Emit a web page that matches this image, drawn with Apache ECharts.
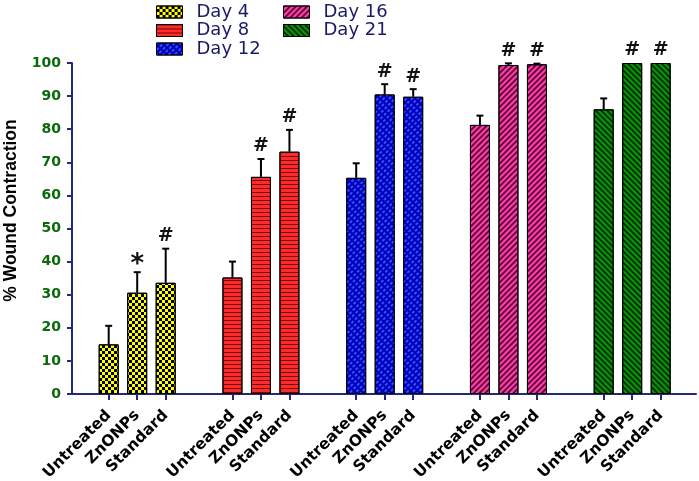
<!DOCTYPE html>
<html><head><meta charset="utf-8">
<script src="https://cdn.jsdelivr.net/npm/echarts@6/dist/echarts.min.js"></script>
<style>html,body{margin:0;padding:0;background:#fff}#c{width:699px;height:481px}</style>
</head><body><div id="c"></div>
<script>
const days = ['Day 4','Day 8','Day 12','Day 16','Day 21'];
const treatments = ['Untreated','ZnONPs','Standard'];
const yTicks = [0,10,20,30,40,50,60,70,80,90,100];
const day4 = [15.0, 30.6, 33.6];
const day8 = [35.2, 65.6, 73.2];
const day12 = [65.3, 90.5, 89.8];
const day16 = [81.3, 99.4, 99.6];
const day21 = [86.0, 100, 100];
const err4 = [5.6, 6.2, 10.3];
const err8 = [4.8, 5.4, 6.6];
const err12 = [4.4, 3.1, 2.3];
const err16 = [2.8, 0.5, 0.2];
const err21 = [3.3, 0, 0];
const marks4 = ['', '*', '#'];
const marks8 = ['', '#', '#'];
const marks12 = ['', '#', '#'];
const marks16 = ['', '#', '#'];
const marks21 = ['', '#', '#'];

const values = [day4, day8, day12, day16, day21];
const errors = [err4, err8, err12, err16, err21];
const marks = [marks4, marks8, marks12, marks16, marks21];

const navy = '#232a7d';
const styles = [
  {color:'#ffff00', decal:{symbol:'rect', symbolSize:1, color:'#000', dashArrayX:[[3,3],[0,3,3,0]], dashArrayY:[3,0]}},
  {color:'#ff2a2a', decal:{symbol:'rect', symbolSize:1, color:'rgba(90,0,0,0.85)', dashArrayX:[1,0], dashArrayY:[1,2.2]}},
  {color:'#0000b8', decal:{symbol:'rect', symbolSize:1, color:'#3050ff', dashArrayX:[3,1.5], dashArrayY:[1.2,1.6], rotation:-Math.PI/4}},
  {color:'#ff40b4', decal:{symbol:'rect', symbolSize:1, color:'rgba(90,0,40,0.9)', dashArrayX:[1,0], dashArrayY:[1.3,1.8], rotation:-Math.PI/4}},
  {color:'#0a960a', decal:{symbol:'rect', symbolSize:1, color:'rgba(0,40,0,0.9)', dashArrayX:[1,0], dashArrayY:[1.3,1.8], rotation:Math.PI/4}}
];

const plotLeft = 72, plotRight = 696, plotTop = 63, plotBottom = 394;
const W = 699, H = 481;
const slot = 28.5, firstMid = 137.2, groupStep = 123.75;

const grids = [{left:plotLeft, right:W-plotRight, top:plotTop, bottom:H-plotBottom, outerBoundsMode:'none', containLabel:false}];
const xAxes = [{gridIndex:0, type:'value', min:0, max:1, axisLine:{show:true, onZero:false, lineStyle:{color:navy, width:2}}, axisTick:{show:false}, axisLabel:{show:false}, splitLine:{show:false}}];
const yAxes = [{gridIndex:0, type:'value', min:0, max:100, interval:10,
  axisLine:{show:true, lineStyle:{color:navy, width:2}},
  axisTick:{show:true, length:5, lineStyle:{color:navy, width:2}},
  axisLabel:{color:'#0a6a0a', fontWeight:'bold', fontSize:14, fontFamily:'DejaVu Sans', margin:11,
    formatter: v => yTicks.indexOf(v) >= 0 ? String(v) : ''},
  splitLine:{show:false},
  name:'% Wound Contraction', nameLocation:'middle', nameGap:51.5,
  nameTextStyle:{color:'#000', fontWeight:'bold', fontSize:17.5, fontFamily:'Liberation Sans', padding:[0,0,0,36]}}];
const series = [];

days.forEach((d, i) => {
  const mid = firstMid + groupStep * i;
  grids.push({left: mid - slot*1.5, width: slot*3, top:plotTop, bottom:H-plotBottom, outerBoundsMode:'none', containLabel:false});
  xAxes.push({gridIndex:i+1, type:'category', data:treatments,
    axisLine:{show:false},
    axisTick:{show:true, alignWithLabel:true, length:6, lineStyle:{color:navy, width:2}},
    axisLabel:{rotate:45, interval:0, fontWeight:'bold', fontSize:15.5, color:'#000', fontFamily:'DejaVu Sans', margin:19}});
  yAxes.push({gridIndex:i+1, type:'value', min:0, max:100, show:false});
  series.push({name:d, type:'bar', xAxisIndex:i+1, yAxisIndex:i+1, barWidth:20,
    itemStyle:{color:styles[i].color, borderColor:'#000', borderWidth:1, decal:styles[i].decal},
    data: values[i]});
  series.push({name:'err'+i, type:'custom', xAxisIndex:i+1, yAxisIndex:i+1, z:5,
    data: values[i].map((v, j) => [j, v, errors[i][j]]),
    renderItem: (params, api) => {
      const x = api.value(0), v = api.value(1), e = api.value(2);
      const p0 = api.coord([x, v]);
      const p1 = api.coord([x, v + e]);
      const children = [];
      if (e > 0) {
        children.push({type:'line', shape:{x1:p0[0], y1:p0[1], x2:p1[0], y2:p1[1]}, style:{stroke:'#000', lineWidth:2}});
        children.push({type:'line', shape:{x1:p1[0]-3.5, y1:p1[1], x2:p1[0]+3.5, y2:p1[1]}, style:{stroke:'#000', lineWidth:2}});
      }
      const m = marks[i][params.dataIndex];
      if (m) {
        children.push({type:'text', style:{text:m, x:p1[0], y:p1[1]+(m==='*'?6:-3), align:'center', verticalAlign:'bottom',
          fontSize: m==='*' ? 26 : 19, fontWeight:'bold', fontFamily:'DejaVu Sans', fill:'#111'}});
      }
      return {type:'group', children};
    }});
});

const legendBase = {orient:'vertical', icon:'rect', itemWidth:26, itemHeight:12, itemGap:0.5,
  itemStyle:{borderColor:'#000', borderWidth:1},
  textStyle:{fontFamily:'DejaVu Sans', fontSize:18, lineHeight:18, color:'#1a1a66', padding:[0,0,0,9]}};

const chart = echarts.init(document.getElementById('c'));
chart.setOption({
  animation:false,
  grid: grids, xAxis: xAxes, yAxis: yAxes,
  legend:[Object.assign({}, legendBase, {data:['Day 4','Day 8','Day 12'], left:151, top:-2}),
          Object.assign({}, legendBase, {data:['Day 16','Day 21'], left:278, top:-2})],
  series
});
</script></body></html>
